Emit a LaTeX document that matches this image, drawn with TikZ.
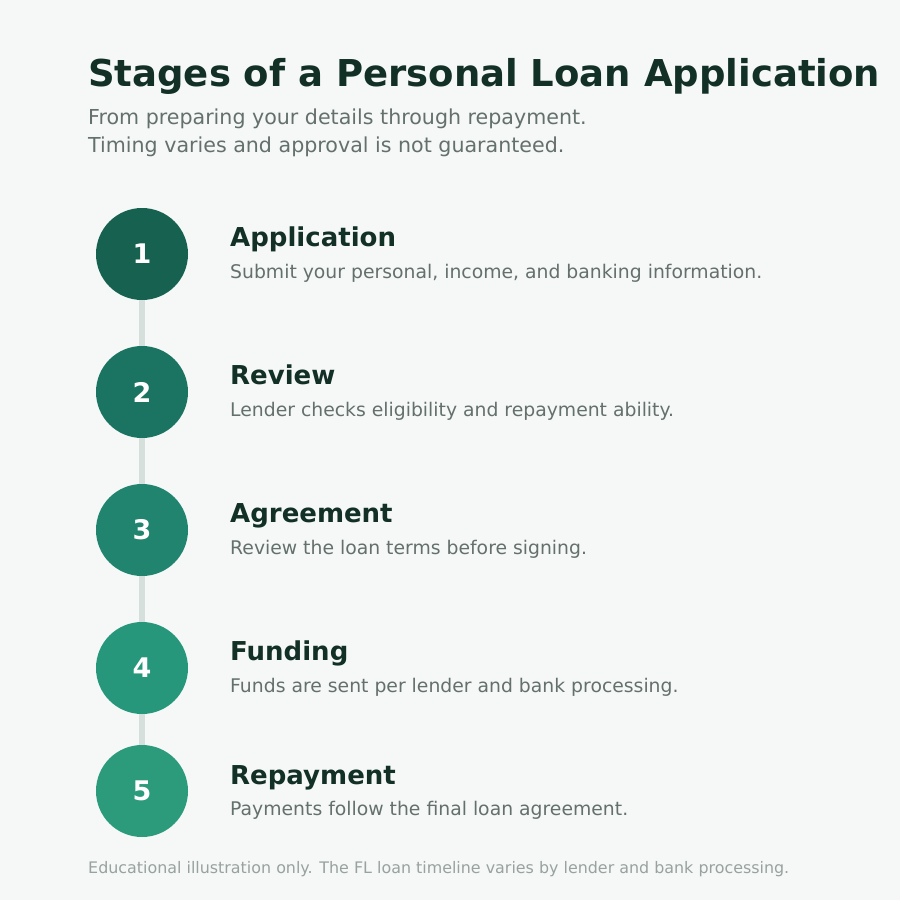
\documentclass[tikz,border=0pt]{standalone}
\usepackage{fontspec}
\setmainfont{DejaVu Sans}
\definecolor{bgpaper}{RGB}{245,248,247}
\definecolor{inkdark}{RGB}{18,48,38}
\definecolor{inkgray}{RGB}{100,112,108}
\definecolor{inkfoot}{RGB}{152,162,158}
\definecolor{rail}{RGB}{213,224,221}
\definecolor{stepa}{RGB}{22,97,79}
\definecolor{stepb}{RGB}{27,116,97}
\definecolor{stepc}{RGB}{33,132,110}
\definecolor{stepd}{RGB}{39,151,123}
\definecolor{stepe}{RGB}{43,155,124}
\pgfdeclarelayer{bg}
\pgfsetlayers{bg,main}
\tikzset{
  stage/.style={circle, minimum size=92pt, inner sep=0pt, text=white,
    font=\fontsize{27}{27}\selectfont\bfseries},
  stagetitle/.style={anchor=base west, inner sep=0pt, text=inkdark,
    font=\fontsize{26}{26}\selectfont\bfseries},
  stagetext/.style={anchor=base west, inner sep=0pt, text=inkgray,
    font=\fontsize{18.8}{18.8}\selectfont},
}

\begin{document}
\begin{tikzpicture}[x=1pt, y=-1pt]
  \begin{pgfonlayer}{bg}    % paper first
    \fill[bgpaper] (0, 0) rectangle (900, 900);
  \end{pgfonlayer}
  \useasboundingbox (0, 0) rectangle (900, 900);

  \node[anchor=base west, inner sep=0pt, text=inkdark,
    font=\fontsize{37}{37}\selectfont\bfseries] (title) at (88, 86)
    {Stages of a Personal Loan Application};
  \node[anchor=base west, inner sep=0pt, text=inkgray,
    font=\fontsize{20.6}{20.6}\selectfont] (sub1) at (88, 124)
    {From preparing your details through repayment.};
  \node[anchor=base west, inner sep=0pt, text=inkgray,
    font=\fontsize{20.6}{20.6}\selectfont] (sub2) at (88, 152)
    {Timing varies and approval is not guaranteed.};

  \node[stage, fill=stepa] (c1) at (142, 254) {\raisebox{-2pt}{1}};
  \node[stage, fill=stepb] (c2) at (142, 392) {\raisebox{-2pt}{2}};
  \node[stage, fill=stepc] (c3) at (142, 530) {\raisebox{-2pt}{3}};
  \node[stage, fill=stepd] (c4) at (142, 668) {\raisebox{-2pt}{4}};
  \node[stage, fill=stepe] (c5) at (142, 791) {\raisebox{-2pt}{5}};

  \begin{pgfonlayer}{bg}    % rail behind the circles
    \draw[rail, line width=6pt] (c1) -- (c2);
    \draw[rail, line width=6pt] (c2) -- (c3);
    \draw[rail, line width=6pt] (c3) -- (c4);
    \draw[rail, line width=6pt] (c4) -- (c5);
  \end{pgfonlayer}

  \node[stagetitle] (t1) at (230, 246) {Application};
  \node[stagetext] (d1) at (230, 278) {Submit your personal, income, and banking information.};
  \node[stagetitle] (t2) at (230, 384) {Review};
  \node[stagetext] (d2) at (230, 416) {Lender checks eligibility and repayment ability.};
  \node[stagetitle] (t3) at (230, 522) {Agreement};
  \node[stagetext] (d3) at (230, 554) {Review the loan terms before signing.};
  \node[stagetitle] (t4) at (230, 660) {Funding};
  \node[stagetext] (d4) at (230, 692) {Funds are sent per lender and bank processing.};
  \node[stagetitle] (t5) at (230, 784) {Repayment};
  \node[stagetext] (d5) at (230, 815) {Payments follow the final loan agreement.};

  \node[anchor=base west, inner sep=0pt, text=inkfoot,
    font=\fontsize{15.9}{15.9}\selectfont] (foot) at (88, 873)
    {Educational illustration only. The FL loan timeline varies by lender and bank processing.};
\end{tikzpicture}
\end{document}
